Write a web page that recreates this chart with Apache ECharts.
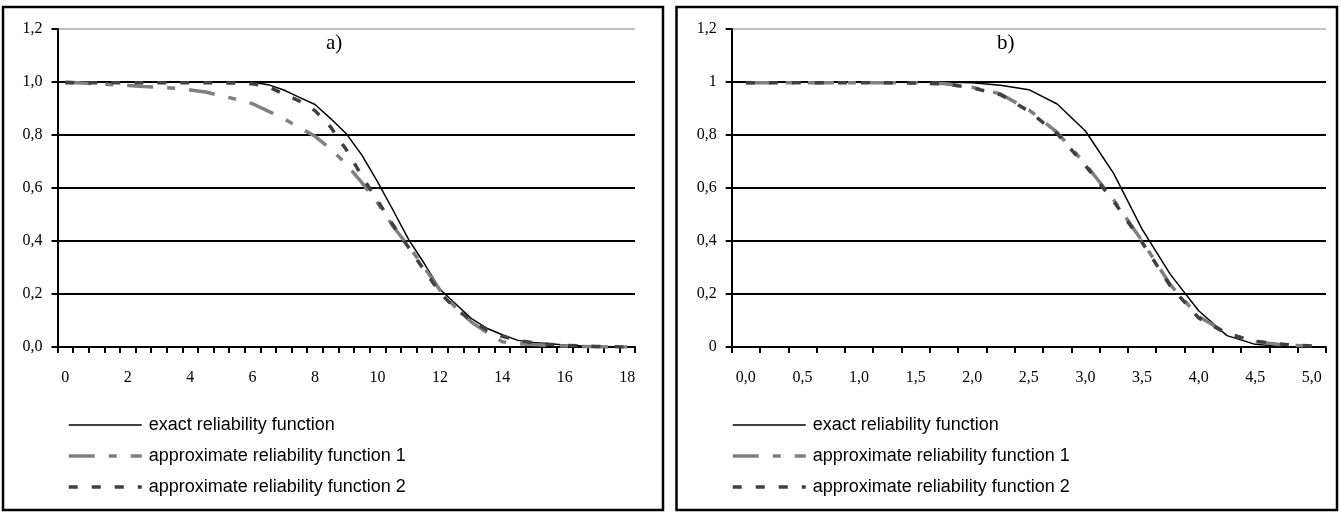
<!DOCTYPE html>
<html><head><meta charset="utf-8">
<script src="https://cdn.jsdelivr.net/npm/echarts@6/dist/echarts.min.js"></script>
<style>html,body{margin:0;padding:0;background:#fff;}#c{width:1341px;height:512px;}</style>
</head><body><div id="c"></div>
<script>
// ---- data ----
const leftCategories = [0,0.5,1,1.5,2,2.5,3,3.5,4,4.5,5,5.5,6,6.5,7,7.5,8,8.5,9,9.5,10,10.5,11,11.5,12,12.5,13,13.5,14,14.5,15,15.5,16,16.5,17,17.5,18];
const leftExact   = [1,1,1,1,1,1,1,1,1,1,1,1,0.999,0.99,0.97,0.942,0.915,0.862,0.805,0.724,0.624,0.516,0.405,0.315,0.218,0.163,0.108,0.071,0.046,0.025,0.017,0.012,0.008,0.005,0.003,0.001,0];
const leftApprox1 = [1,0.996,0.993,0.99,0.987,0.983,0.98,0.976,0.97,0.962,0.948,0.934,0.918,0.89,0.862,0.828,0.795,0.748,0.69,0.62,0.545,0.455,0.38,0.3,0.215,0.15,0.095,0.055,0.02,0.013,0.009,0.006,0.004,0.002,0.001,0,0];
const leftApprox2 = [0.997,0.997,0.997,0.997,0.997,0.997,0.997,0.997,0.997,0.997,0.997,0.996,0.993,0.982,0.955,0.928,0.892,0.83,0.745,0.645,0.553,0.46,0.375,0.29,0.205,0.145,0.1,0.065,0.04,0.025,0.016,0.01,0.006,0.004,0.002,0.001,0];

const rightCategories = [0,0.25,0.5,0.75,1,1.25,1.5,1.75,2,2.25,2.5,2.75,3,3.25,3.5,3.75,4,4.25,4.5,4.75,5];
const rightExact   = [1,1,1,1,1,1,1,1,0.997,0.988,0.971,0.917,0.815,0.654,0.445,0.274,0.137,0.043,0.01,0.002,0];
const rightApprox1 = [0.997,0.997,0.997,0.997,0.997,0.997,0.997,0.994,0.98,0.955,0.895,0.81,0.69,0.555,0.4,0.235,0.115,0.052,0.02,0.008,0.003];
const rightApprox2 = [0.997,0.997,0.997,0.997,0.997,0.997,0.996,0.993,0.978,0.952,0.89,0.805,0.685,0.55,0.395,0.23,0.11,0.05,0.022,0.01,0.004];

const seriesNames = ['exact reliability function','approximate reliability function 1','approximate reliability function 2'];
const panelTitles = ['a)','b)'];

// ---- chart ----
const chart = echarts.init(document.getElementById('c'), null, {renderer:'canvas'});
const serif = 'Liberation Serif, Times New Roman, serif';
const sans = 'Liberation Sans, Arial, sans-serif';
const gridColors = ['#000','#000','#000','#000','#000','#000','#c0c0c0'];

function yAxis(gridIndex, fmt){
  return {type:'value', gridIndex, min:0, max:1.2, interval:0.2,
    axisLine:{show:true, lineStyle:{color:'#000', width:2}},
    axisTick:{show:true, length:6, lineStyle:{color:'#000', width:2}},
    axisLabel:{margin:15, color:'#000', fontFamily:serif, fontSize:16, formatter:fmt},
    splitLine:{show:true, lineStyle:{color:gridColors, width:2}}};
}
function xAxis(gridIndex, cats, labelInterval, fmt){
  return {type:'category', gridIndex, data:cats.map(String), boundaryGap:true,
    axisLine:{show:true, lineStyle:{color:'#000', width:2}},
    axisTick:{show:true, interval:0, length:6, lineStyle:{color:'#000', width:2}},
    axisLabel:{interval:labelInterval, margin:23, color:'#000', fontFamily:serif, fontSize:16, formatter:fmt},
    splitLine:{show:false}};
}
function lines(idx, exact, a1, a2){
  const base = {type:'line', xAxisIndex:idx, yAxisIndex:idx, symbol:'none', showSymbol:false, animation:false, smooth:false};
  return [
    Object.assign({}, base, {name:seriesNames[0], data:exact, z:3, itemStyle:{color:'#000'}, lineStyle:{color:'#000', width:1.5}}),
    Object.assign({}, base, {name:seriesNames[1], data:a1, z:4, itemStyle:{color:'#808080'}, lineStyle:{color:'#808080', width:3.5, type:[26,14,8,14], cap:'butt'}}),
    Object.assign({}, base, {name:seriesNames[2], data:a2, z:5, itemStyle:{color:'#404040'}, lineStyle:{color:'#404040', width:3.5, type:[9,14], cap:'butt'}})
  ];
}
function legend(left){
  return {orient:'vertical', left, top:411, itemWidth:73, itemHeight:14, itemGap:13,
    data:seriesNames, selectedMode:false,
    itemStyle:{opacity:0},
    lineStyle:{width:'inherit'},
    textStyle:{fontFamily:sans, fontSize:18, color:'#000', padding:[0,0,0,2]}};
}

const option = {
  backgroundColor:'#fff',
  animation:false,
  title:[
    {text:panelTitles[0], left:326, top:33, padding:0, textStyle:{fontFamily:serif, fontSize:21, fontWeight:'normal', color:'#000'}},
    {text:panelTitles[1], left:997, top:33, padding:0, textStyle:{fontFamily:serif, fontSize:21, fontWeight:'normal', color:'#000'}}
  ],
  legend:[legend(62), legend(726)],
  grid:[
    {left:57.5, top:29, width:577.5, height:318, containLabel:false},
    {left:731.7, top:29, width:594.3, height:318, containLabel:false}
  ],
  xAxis:[
    xAxis(0, leftCategories, 3, v => String(Number(v))),
    xAxis(1, rightCategories, 1, v => Number(v).toFixed(1).replace('.', ','))
  ],
  yAxis:[
    yAxis(0, v => v.toFixed(1).replace('.', ',')),
    yAxis(1, v => (Math.abs(v) < 1e-9 ? '0' : Math.abs(v-1) < 1e-9 ? '1' : v.toFixed(1).replace('.', ',')))
  ],
  graphic:[
    {type:'rect', shape:{x:3, y:7, width:660, height:503}, style:{fill:'none', stroke:'#000', lineWidth:2.5}, silent:true},
    {type:'rect', shape:{x:676.5, y:7, width:660.5, height:503}, style:{fill:'none', stroke:'#000', lineWidth:2.5}, silent:true}
  ],
  series:[].concat(lines(0, leftExact, leftApprox1, leftApprox2), lines(1, rightExact, rightApprox1, rightApprox2))
};
chart.setOption(option);
</script></body></html>
